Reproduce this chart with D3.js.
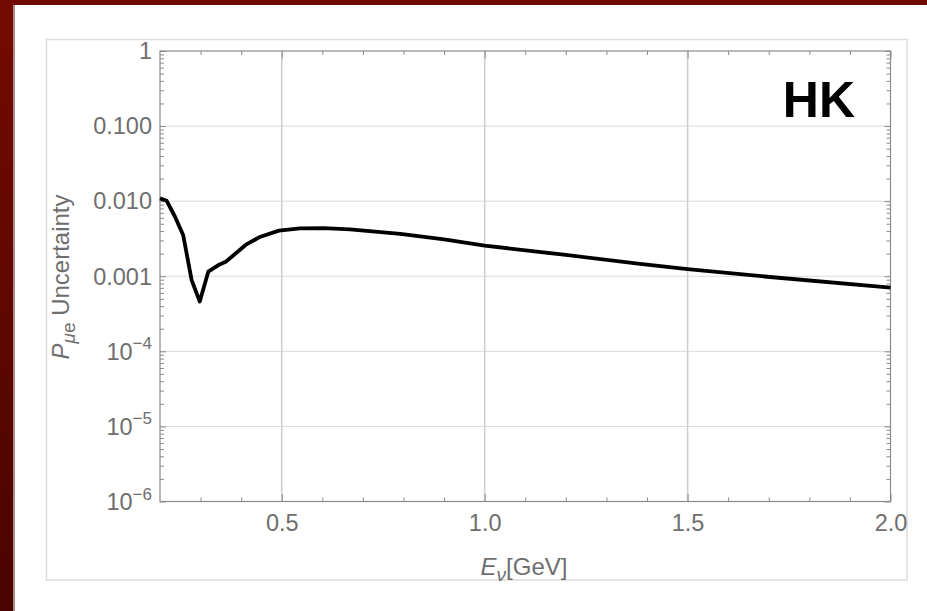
<!DOCTYPE html>
<html>
<head>
<meta charset="utf-8">
<script src="https://cdn.jsdelivr.net/npm/d3@7"></script>
<style>
html,body{margin:0;padding:0;background:#fff;}
svg{display:block;}
text{font-family:"Liberation Sans",Arial,sans-serif;}
</style>
</head>
<body>
<svg id="chart" width="927" height="611"></svg>
<script>
// ---- data ----
const energy = [0.2, 0.2165, 0.237, 0.257, 0.278, 0.298, 0.319, 0.344, 0.362, 0.387, 0.411, 0.444, 0.493, 0.545, 0.603, 0.668, 0.792, 0.9, 1.0, 1.2, 1.383, 1.5, 1.71, 2.0];
const uncertainty = [0.0109, 0.0101, 0.0062, 0.00355, 0.00089, 0.00046, 0.00115, 0.00141, 0.00156, 0.00202, 0.00261, 0.0033, 0.00405, 0.00435, 0.00438, 0.00422, 0.00366, 0.0031, 0.00256, 0.00192, 0.00146, 0.00124, 0.00097, 0.000705];
const xMajorTicks = [0.5, 1.0, 1.5, 2.0];
const xTickLabels = ["0.5", "1.0", "1.5", "2.0"];
const yMajorTicks = [1, 0.1, 0.01, 0.001, 1e-4, 1e-5, 1e-6];
const yTickLabels = [["1", null], ["0.100", null], ["0.010", null], ["0.001", null], ["10", "\u22124"], ["10", "\u22125"], ["10", "\u22126"]];
const xDomain = [0.2, 2.0];
const yDomain = [1e-6, 1];
const panelLabel = "HK";

// ---- layout ----
const svg = d3.select("#chart");
const L = 160, R = 890.5, T = 51, B = 501.5;
const FS = 23.5;

// background decoration
const defs = svg.append("defs");
const g1 = defs.append("linearGradient").attr("id","lg").attr("x1","0").attr("x2","0").attr("y1","0").attr("y2","1");
g1.append("stop").attr("offset","0").attr("stop-color","#740b00");
g1.append("stop").attr("offset","1").attr("stop-color","#4a0400");
svg.append("rect").attr("x",0).attr("y",0).attr("width",927).attr("height",5).attr("fill","#700a00");
svg.append("rect").attr("x",0).attr("y",0).attr("width",13).attr("height",611).attr("fill","url(#lg)");
svg.append("rect").attr("x",13).attr("y",5).attr("width",2).attr("height",606).attr("fill","#b08a86");

// outer frame
svg.append("rect").attr("x",46.5).attr("y",39.5).attr("width",860.5).attr("height",540.5)
  .attr("fill","#fff").attr("stroke","#dcdcdc").attr("stroke-width",1.5);

const x = d3.scaleLinear().domain(xDomain).range([L, R]);
const y = d3.scaleLog().domain(yDomain).range([B, T]);

// gridlines
svg.append("g").selectAll("line").data(yMajorTicks.slice(1, -1)).join("line")
  .attr("x1", L).attr("x2", R).attr("y1", d => y(d)).attr("y2", d => y(d))
  .attr("stroke", "#dadada").attr("stroke-width", 1);
svg.append("g").selectAll("line").data(xMajorTicks.slice(0, -1)).join("line")
  .attr("x1", d => x(d)).attr("x2", d => x(d)).attr("y1", T).attr("y2", B)
  .attr("stroke", "#cfcfcf").attr("stroke-width", 1.6);

// minor ticks
const xMinor = d3.range(3, 20).map(v => v / 10).filter(v => !xMajorTicks.some(m => Math.abs(m - v) < 1e-9));
const yMinor = [];
for (let e = -6; e < 0; e++) for (let k = 2; k <= 9; k++) yMinor.push(k * Math.pow(10, e));

const axisColor = "#8a8a8a";
function styleAxis(g) {
  g.select(".domain").remove();
  g.selectAll(".tick line").attr("stroke", axisColor).attr("stroke-width", 1);
}
svg.append("g").attr("transform", `translate(0,${B})`).call(d3.axisBottom(x).tickValues(xMinor).tickSize(-4).tickFormat("")).call(styleAxis);
svg.append("g").attr("transform", `translate(0,${T})`).call(d3.axisTop(x).tickValues(xMinor).tickSize(-4).tickFormat("")).call(styleAxis);
svg.append("g").attr("transform", `translate(0,${T})`).call(d3.axisTop(x).tickValues(xMajorTicks).tickSize(-7.5).tickFormat("")).call(styleAxis);
svg.append("g").attr("transform", `translate(${L},0)`).call(d3.axisLeft(y).tickValues(yMinor).tickSize(-4).tickFormat("")).call(styleAxis);
svg.append("g").attr("transform", `translate(${R},0)`).call(d3.axisRight(y).tickValues(yMinor).tickSize(-4).tickFormat("")).call(styleAxis);
svg.append("g").attr("transform", `translate(${R},0)`).call(d3.axisRight(y).tickValues(yMajorTicks).tickSize(-6).tickFormat("")).call(styleAxis);

// bottom major axis with labels
const xAxis = svg.append("g").attr("transform", `translate(0,${B})`)
  .call(d3.axisBottom(x).tickValues(xMajorTicks).tickSize(-7.5).tickPadding(0).tickFormat((d, i) => xTickLabels[i]));
styleAxis(xAxis);
xAxis.selectAll(".tick text").attr("y", 29.5).attr("dy", null).attr("fill", "#6e6e6e").attr("font-size", FS)
  .attr("font-family", "'Liberation Sans', Arial, sans-serif");

// left major axis with labels
const yAxis = svg.append("g").attr("transform", `translate(${L},0)`)
  .call(d3.axisLeft(y).tickValues(yMajorTicks).tickSize(-6).tickPadding(8).tickFormat(""));
styleAxis(yAxis);
yAxis.selectAll(".tick text").each(function(d, i) {
  const t = d3.select(this);
  const lab = yTickLabels[i];
  t.attr("fill", "#6e6e6e").attr("font-size", FS).attr("font-family", "'Liberation Sans', Arial, sans-serif")
    .attr("dy", "0.33em").attr("x", -8);
  t.text(null);
  t.append("tspan").text(lab[0]);
  if (lab[1]) t.append("tspan").attr("font-size", 17).attr("dy", "-0.6em").text(lab[1]);
});
// frame lines
svg.append("rect").attr("x", L).attr("y", T).attr("width", R - L).attr("height", B - T)
  .attr("fill", "none").attr("stroke", axisColor).attr("stroke-width", 1.2);

// curve
const line = d3.line().x((d, i) => x(energy[i])).y(d => y(d)).curve(d3.curveLinear);
svg.append("path").datum(uncertainty).attr("d", line)
  .attr("fill", "none").attr("stroke", "#000").attr("stroke-width", 3.8)
  .attr("stroke-linejoin", "round").attr("stroke-linecap", "butt");

// panel label
svg.append("text").attr("x", 855).attr("y", 117).attr("text-anchor", "end")
  .attr("font-size", 50).attr("font-weight", "bold").attr("fill", "#000").text(panelLabel);

// x axis title
const xt = svg.append("text").attr("x", 524).attr("y", 575).attr("text-anchor", "middle")
  .attr("font-size", 24).attr("fill", "#6e6e6e");
xt.append("tspan").attr("font-style", "italic").text("E");
xt.append("tspan").attr("font-style", "italic").attr("font-size", 19).attr("dy", 6).text("\u03bd");
xt.append("tspan").attr("dy", -6).text("[GeV]");

// y axis title
const yt = svg.append("text").attr("transform", "translate(69,277) rotate(-90)").attr("text-anchor", "middle")
  .attr("font-size", 24).attr("fill", "#6e6e6e");
yt.append("tspan").attr("font-style", "italic").text("P");
yt.append("tspan").attr("font-style", "italic").attr("font-size", 19).attr("dy", 6).text("\u03bc");
yt.append("tspan").attr("font-size", 19).text("e");
yt.append("tspan").attr("dy", -6).text(" Uncertainty");
</script>
</body>
</html>
